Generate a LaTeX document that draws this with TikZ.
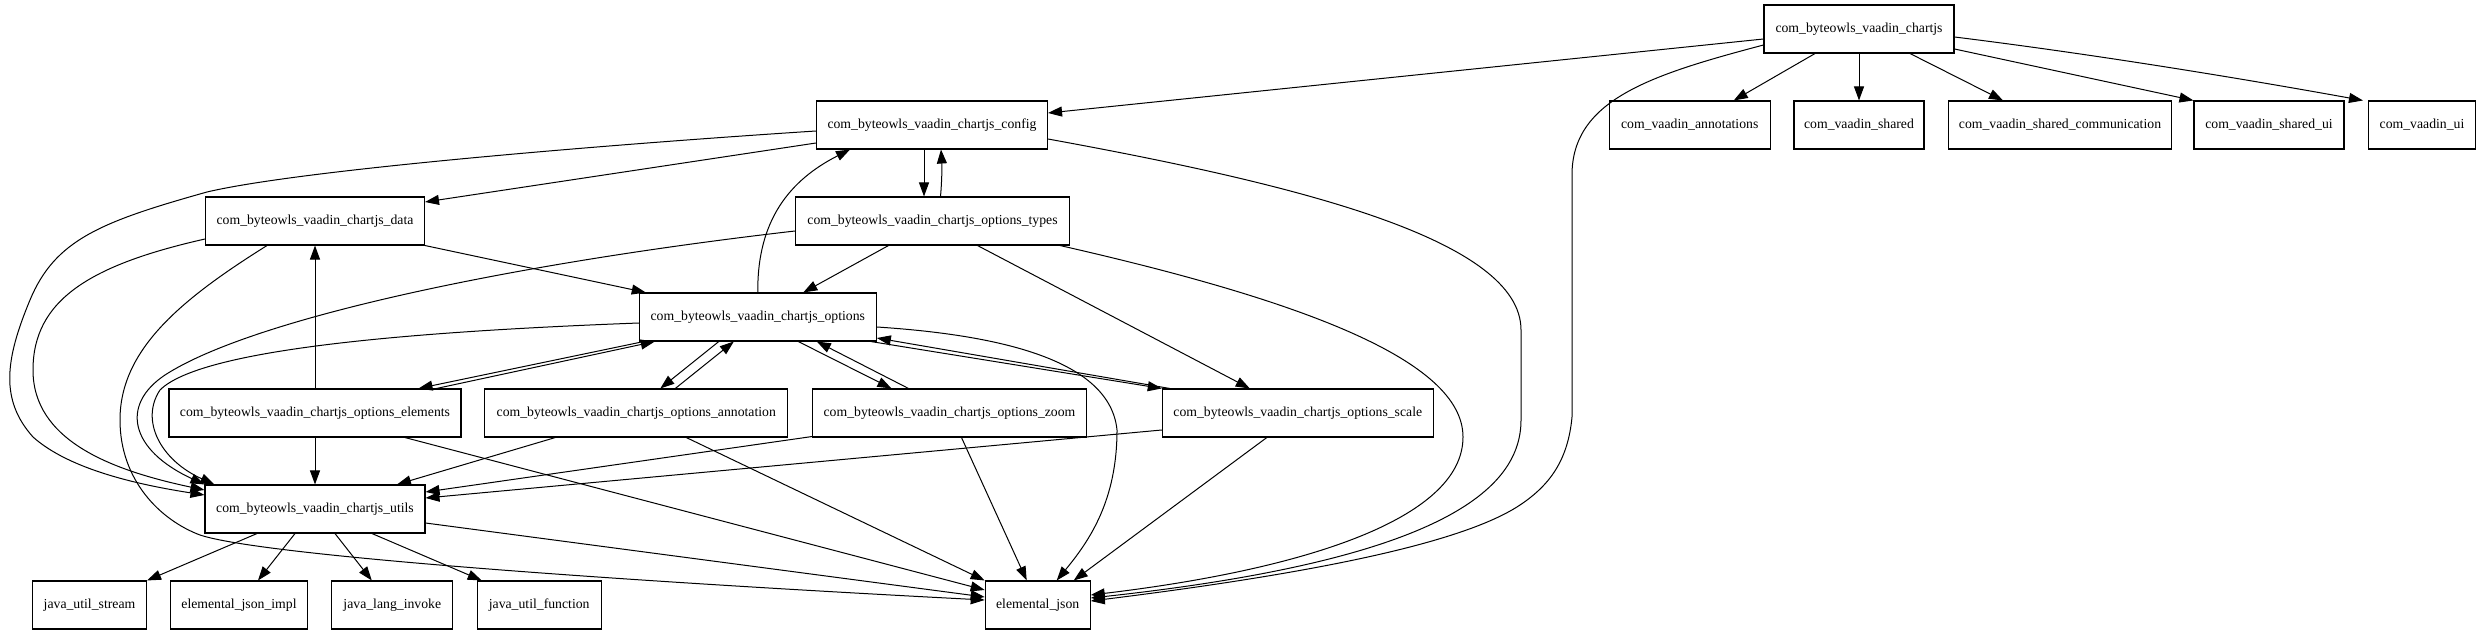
\documentclass[tikz,border=0pt]{standalone}
\usepackage{fontspec}
\setmainfont{Liberation Serif}
\usetikzlibrary{arrows.meta,calc}
\begin{document}
\begin{tikzpicture}[x=0.75pt,y=-0.75pt,
  box/.style={draw,line width=0.8pt,rectangle,inner sep=0pt,minimum height=36pt,
    font=\fontsize{10.3}{12}\selectfont},
  bw/.style={minimum width=#1*0.75pt},
  dep/.style={draw,line width=0.75pt,-{Triangle[length=10.5pt,width=7.5pt]}}]
\useasboundingbox (0,0) rectangle (2480,635);
\fill[white] (0,0) rectangle (2480,635);
% nodes
\node[box,bw=190] (chartjs) at (1859,29) {com\_byteowls\_vaadin\_chartjs};
\node[box,bw=231] (config) at (932,125) {com\_byteowls\_vaadin\_chartjs\_config};
\node[box,bw=161] (ann) at (1689.7,125) {com\_vaadin\_annotations};
\node[box,bw=130] (shared) at (1859,125) {com\_vaadin\_shared};
\node[box,bw=223] (sharedcomm) at (2060,125) {com\_vaadin\_shared\_communication};
\node[box,bw=150] (sharedui) at (2269,125) {com\_vaadin\_shared\_ui};
\node[box,bw=107] (ui) at (2422,125) {com\_vaadin\_ui};
\node[box,bw=219] (data) at (315,221) {com\_byteowls\_vaadin\_chartjs\_data};
\node[box,bw=274] (types) at (932.5,221) {com\_byteowls\_vaadin\_chartjs\_options\_types};
\node[box,bw=237] (options) at (757.8,317) {com\_byteowls\_vaadin\_chartjs\_options};
\node[box,bw=292] (elements) at (315,413) {com\_byteowls\_vaadin\_chartjs\_options\_elements};
\node[box,bw=303] (annotation) at (636.3,413) {com\_byteowls\_vaadin\_chartjs\_options\_annotation};
\node[box,bw=274] (zoom) at (949.5,413) {com\_byteowls\_vaadin\_chartjs\_options\_zoom};
\node[box,bw=271] (scale) at (1297.8,413) {com\_byteowls\_vaadin\_chartjs\_options\_scale};
\node[box,bw=220] (utils) at (315,509) {com\_byteowls\_vaadin\_chartjs\_utils};
\node[box,bw=114] (stream) at (89.5,605) {java\_util\_stream};
\node[box,bw=137] (ejimpl) at (239,605) {elemental\_json\_impl};
\node[box,bw=121] (invoke) at (392.3,605) {java\_lang\_invoke};
\node[box,bw=124] (function) at (539.2,605) {java\_util\_function};
\node[box,bw=105] (ej) at (1037.7,605) {elemental\_json};
% chartjs edges
\draw[dep] ($(chartjs.west)+(0,10)$) -- ($(config.east)+(0,-12)$);
\draw[dep] ($(chartjs.west)+(0,16)$) .. controls (1650,75) and (1572,100) .. (1572,175)
  -- (1572,417) .. controls (1568,460) and (1550,485) .. (1520,505)
  .. controls (1460,545) and (1300,575) .. ($(ej.east)+(0,-4)$);
\draw[dep] ($(chartjs.south)+(-44,0)$) -- ($(ann.north)+(44,0)$);
\draw[dep] (chartjs.south) -- (shared.north);
\draw[dep] ($(chartjs.south)+(51,0)$) -- ($(sharedcomm.north)+(-57,0)$);
\draw[dep] ($(chartjs.east)+(0,20)$) -- (sharedui.north west);
\draw[dep] ($(chartjs.east)+(0,8)$) .. controls (2100,55) and (2250,80) .. ($(ui.north west)+(-5,0)$);
% config edges
\draw[dep] ($(config.west)+(0,18)$) -- ($(data.east)+(0,-19)$);
\draw[dep] ($(config.south)+(-8,0)$) -- ($(types.north)+(-8.5,0)$);
\draw[dep] ($(types.north)+(8,0)$) .. controls (942,180) and (942,165) .. ($(config.south)+(9,0)$);
\draw[dep] ($(config.west)+(0,6)$) .. controls (600,145) and (300,170) .. (207,192)
  .. controls (100,222) and (55,240) .. (30,300)
  .. controls (5,360) and (0,400) .. (33,437)
  .. controls (70,470) and (140,485) .. ($(utils.west)+(0,-14)$);
\draw[dep] ($(config.east)+(0,14)$) .. controls (1300,185) and (1521,240) .. (1521,330)
  -- (1521,420) .. controls (1521,490) and (1440,560) .. ($(ej.east)+(0,-7)$);
% types edges
\draw[dep] ($(types.south east)+(-10,0)$) .. controls (1300,300) and (1463,360) .. (1463,437)
  .. controls (1463,520) and (1300,570) .. ($(ej.east)+(0,-10)$);
\draw[dep] ($(types.south)+(-44,0)$) -- ($(options.north)+(45.5,0)$);
\draw[dep] ($(types.west)+(0,10)$) .. controls (500,265) and (250,320) .. (165,375)
  .. controls (120,405) and (130,450) .. (utils.north west);
\draw[dep] ($(types.south)+(45,0)$) -- ($(scale.north)+(-48,0)$);
% options edges
\draw[dep] (options.north) .. controls (757,220) and (790,180) .. ($(config.south)+(-82,0)$);
\draw[dep] ($(options.west)+(0,6)$) .. controls (400,332) and (200,350) .. (160,390)
  .. controls (140,420) and (160,460) .. ($(utils.north west)+(10,0)$);
\draw[dep] ($(options.south west)+(5,0)$) -- ($(elements.north east)+(-43,0)$);
\draw[dep] ($(elements.north east)+(-25,0)$) -- ($(options.south west)+(16,0)$);
\draw[dep] ($(options.south)+(-39,0)$) -- ($(annotation.north)+(24,0)$);
\draw[dep] ($(annotation.north)+(39,0)$) -- ($(options.south)+(-24,0)$);
\draw[dep] ($(options.south)+(40.5,0)$) -- ($(zoom.north)+(-58,0)$);
\draw[dep] ($(zoom.north)+(-41,0)$) -- ($(options.south)+(59,0)$);
\draw[dep] ($(options.south east)+(-6,0)$) -- (scale.north west);
\draw[dep] ($(scale.north west)+(8,0)$) -- ($(options.east)+(0,21)$);
\draw[dep] ($(options.east)+(0,10)$) .. controls (1000,335) and (1110,360) .. (1117,430)
  .. controls (1117,500) and (1090,540) .. ($(ej.north)+(19,0)$);
% data edges
\draw[dep] (data.south east) -- ($(options.north west)+(7,0)$);
\draw[dep] ($(data.west)+(0,18)$) .. controls (90,265) and (33,300) .. (33,370)
  .. controls (33,440) and (110,470) .. ($(utils.west)+(0,-19)$);
\draw[dep] ($(data.south)+(-48,0)$) .. controls (180,300) and (120,350) .. (120,420)
  .. controls (120,480) and (160,520) .. (200,535)
  .. controls (260,555) and (600,580) .. ($(ej.west)+(0,-5)$);
% elements edges
\draw[dep] (elements.north) -- (data.south);
\draw[dep] (elements.south) -- (utils.north);
\draw[dep] ($(elements.south)+(90,0)$) -- ($(ej.west)+(0,-15)$);
% annotation edges
\draw[dep] ($(annotation.south)+(-81,0)$) -- ($(utils.north)+(82,0)$);
\draw[dep] ($(annotation.south)+(50,0)$) -- (ej.north west);
% zoom edges
\draw[dep] ($(zoom.south west)+(0,-1)$) -- ($(utils.east)+(0,-17)$);
\draw[dep] ($(zoom.south)+(12,0)$) -- ($(ej.north)+(-11,0)$);
% scale edges
\draw[dep] ($(scale.south)+(-31,0)$) -- ($(ej.north)+(36,0)$);
\draw[dep] ($(scale.west)+(0,17)$) -- ($(utils.east)+(0,-11)$);
% utils edges
\draw[dep] ($(utils.south)+(-58,0)$) -- (stream.north east);
\draw[dep] ($(utils.south)+(-20,0)$) -- ($(ejimpl.north)+(19,0)$);
\draw[dep] ($(utils.south)+(20,0)$) -- ($(invoke.north)+(-20.5,0)$);
\draw[dep] ($(utils.south)+(57,0)$) -- ($(function.north)+(-57.5,0)$);
\draw[dep] ($(utils.east)+(0,14)$) -- ($(ej.west)+(0,-8)$);
\end{tikzpicture}
\end{document}
